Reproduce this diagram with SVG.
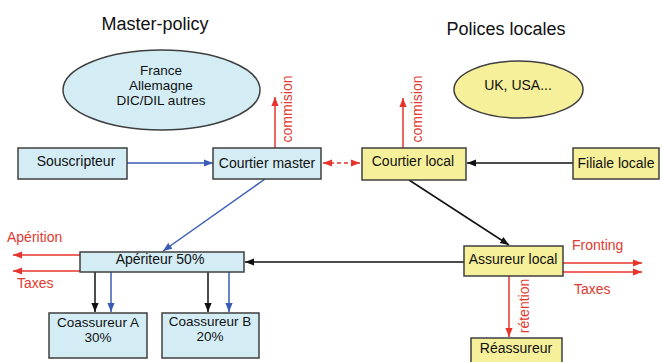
<svg xmlns="http://www.w3.org/2000/svg" width="662" height="362" viewBox="0 0 662 362">
<style>
text{font-family:"Liberation Sans",Arial,sans-serif;}
.t{font-size:14px;fill:#111;text-anchor:middle;}
.m{font-size:13.5px;fill:#111;text-anchor:middle;}
.h{font-size:18px;fill:#111;text-anchor:middle;}
.r{font-size:14px;fill:#e03a30;}
.bl{fill:#d4edf5;stroke:#3f3f3f;stroke-width:1.5;}
.ye{fill:#f7f09a;stroke:#3f3f3f;stroke-width:1.5;}
.k{stroke:#111;stroke-width:1.5;fill:none;marker-end:url(#ak);}
.b{stroke:#3a5cb5;stroke-width:1.5;fill:none;marker-end:url(#ab);}
.rd{stroke:#e8332b;stroke-width:1.5;fill:none;marker-end:url(#ar);}
</style>
<defs>
<marker id="ak" viewBox="0 0 10 10" refX="10" refY="5" markerWidth="6" markerHeight="6" orient="auto"><path d="M0,1 L10,5 L0,9 z" fill="#111"/></marker>
<marker id="ab" viewBox="0 0 10 10" refX="10" refY="5" markerWidth="6" markerHeight="6" orient="auto"><path d="M0,1 L10,5 L0,9 z" fill="#3a5cb5"/></marker>
<marker id="ar" viewBox="0 0 10 10" refX="10" refY="5" markerWidth="6" markerHeight="6" orient="auto"><path d="M0,1 L10,5 L0,9 z" fill="#e8332b"/></marker>
<marker id="ars" viewBox="0 0 10 10" refX="0" refY="5" markerWidth="6" markerHeight="6" orient="auto"><path d="M10,1 L0,5 L10,9 z" fill="#e8332b"/></marker>
</defs>
<rect width="662" height="362" fill="#fff"/>
<text class="h" x="155" y="30">Master-policy</text>
<text class="h" x="506" y="35">Polices locales</text>

<g id="connectors">
<line class="b" x1="127" y1="163" x2="213" y2="163"/>
<line x1="323" y1="163" x2="360" y2="163" stroke="#e8332b" stroke-width="1.5" stroke-dasharray="4,3" marker-start="url(#ars)" marker-end="url(#ar)"/>
<line class="k" x1="573" y1="163" x2="467" y2="163"/>
<line class="rd" x1="275" y1="148" x2="275" y2="97"/>
<line class="rd" x1="403" y1="148" x2="403" y2="98"/>
<line class="b" x1="265" y1="179" x2="163" y2="251"/>
<line class="k" x1="409" y1="180" x2="509" y2="245"/>
<line class="k" x1="464" y1="262" x2="245" y2="262"/>
<line class="rd" x1="80" y1="255" x2="13" y2="255"/>
<line class="rd" x1="80" y1="271" x2="13" y2="271"/>
<line class="rd" x1="563" y1="263" x2="642" y2="263"/>
<line class="rd" x1="563" y1="272" x2="642" y2="272"/>
<line class="rd" x1="509" y1="276" x2="509" y2="337"/>
<line class="k" x1="95" y1="272" x2="95" y2="312"/>
<line class="b" x1="111" y1="272" x2="111" y2="312"/>
<line class="k" x1="208" y1="272" x2="208" y2="312"/>
<line class="b" x1="229" y1="272" x2="229" y2="312"/>
<text class="r" transform="translate(292,109) rotate(-90)" text-anchor="middle">commision</text>
<text class="r" transform="translate(422,109) rotate(-90)" text-anchor="middle">commision</text>
<text class="r" transform="translate(529,306) rotate(-90)" text-anchor="middle">rétention</text>
<text class="r" x="7" y="242">Apérition</text>
<text class="r" x="17" y="288">Taxes</text>
<text class="r" x="572" y="250">Fronting</text>
<text class="r" x="574" y="294">Taxes</text>
</g>

<g id="ellipse-master">
<ellipse class="bl" cx="161.5" cy="90" rx="98.5" ry="40"/>
<text class="m" x="161" y="75">France</text>
<text class="m" x="161" y="90">Allemagne</text>
<text class="m" x="161" y="105">DIC/DIL autres</text>
</g>
<g id="ellipse-local">
<ellipse class="ye" cx="518.5" cy="89.5" rx="64.5" ry="28.5"/>
<text class="t" x="518" y="90">UK, USA...</text>
</g>
<g id="souscripteur">
<rect class="bl" x="18" y="148" width="109" height="31"/>
<text class="t" x="76" y="166">Souscripteur</text>
</g>
<g id="courtier-master">
<rect class="bl" x="213" y="148" width="108" height="31"/>
<text class="t" x="267" y="168">Courtier master</text>
</g>
<g id="courtier-local">
<rect class="ye" x="362" y="148" width="104" height="32"/>
<text class="t" x="413" y="166">Courtier local</text>
</g>
<g id="filiale-locale">
<rect class="ye" x="573" y="148" width="86" height="31"/>
<text class="t" x="616" y="168">Filiale locale</text>
</g>
<g id="aperiteur">
<rect class="bl" x="80" y="252" width="164" height="20"/>
<text class="t" x="160" y="264">Apériteur 50%</text>
</g>
<g id="coassureur-a">
<rect class="bl" x="49" y="313" width="98" height="45"/>
<text class="m" x="98" y="327">Coassureur A</text>
<text class="m" x="98" y="342">30%</text>
</g>
<g id="coassureur-b">
<rect class="bl" x="162" y="313" width="97" height="45"/>
<text class="m" x="210" y="326">Coassureur B</text>
<text class="m" x="210" y="341">20%</text>
</g>
<g id="assureur-local">
<rect class="ye" x="464" y="246" width="99" height="30"/>
<text class="t" x="513" y="264">Assureur local</text>
</g>
<g id="reassureur">
<rect class="ye" x="471" y="338" width="91" height="30"/>
<text class="t" x="516" y="353">Réassureur</text>
</g>
</svg>
